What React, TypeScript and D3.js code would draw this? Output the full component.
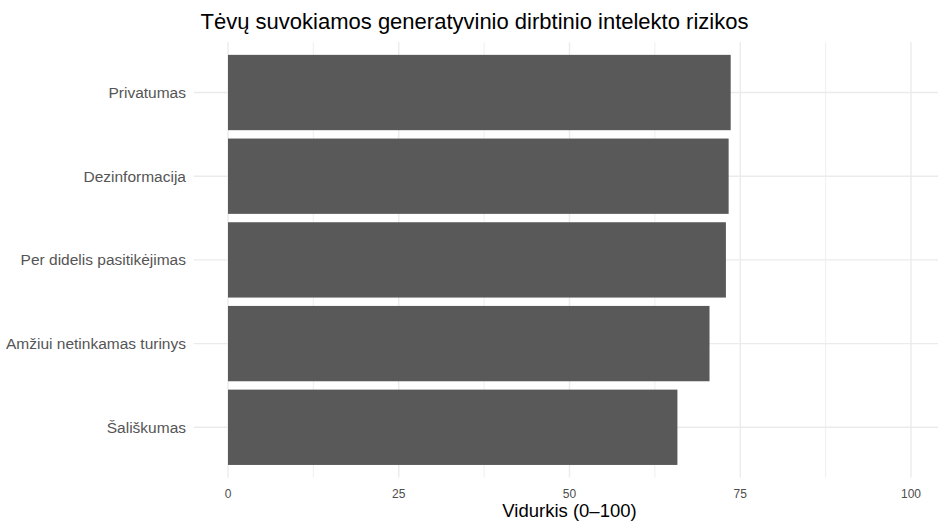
import React from "react";
import * as d3 from "d3";

const categories = [
  "Privatumas",
  "Dezinformacija",
  "Per didelis pasitikėjimas",
  "Amžiui netinkamas turinys",
  "Šališkumas",
];
const values = [73.6, 73.3, 72.9, 70.5, 65.8];
const xTicks = [0, 25, 50, 75, 100];
const minorTicks = [12.5, 37.5, 62.5, 87.5, 112.5];

const W = 938;
const H = 525;
const FONT = "'Liberation Sans', Arial, sans-serif";

export default function App() {
  const x = d3.scaleLinear().domain([0, 100]).range([228, 911]);
  const panelLeft = x(-5);
  const panelRight = x(105);
  const panelTop = 42.3;
  const panelBottom = 477.5;
  const y = d3
    .scaleBand()
    .domain(categories)
    .range([panelTop, panelBottom])
    .paddingInner(0.1)
    .paddingOuter(0.15);
  const center = (c: string) => (y(c) as number) + y.bandwidth() / 2;

  return (
    <div style={{ position: "fixed", left: 0, top: 0 }}>
      <svg width={W} height={H} style={{ display: "block", background: "#fff" }}>
        {minorTicks.map((t) => (
          <line key={"m" + t} x1={x(t)} x2={x(t)} y1={panelTop} y2={panelBottom} stroke="#ebebeb" strokeWidth={0.8} />
        ))}
        {xTicks.map((t) => (
          <line key={"M" + t} x1={x(t)} x2={x(t)} y1={panelTop} y2={panelBottom} stroke="#ebebeb" strokeWidth={1.4} />
        ))}
        {categories.map((c) => (
          <line key={"h" + c} x1={panelLeft} x2={panelRight} y1={center(c)} y2={center(c)} stroke="#ebebeb" strokeWidth={1.4} />
        ))}
        {categories.map((c, i) => (
          <rect
            key={"b" + c}
            x={x(0)}
            y={y(c) as number}
            width={x(values[i]) - x(0)}
            height={y.bandwidth()}
            fill="#595959"
          />
        ))}
        {categories.map((c) => (
          <text
            key={"l" + c}
            x={186}
            y={center(c)}
            dy="0.35em"
            textAnchor="end"
            fontFamily={FONT}
            fontSize={15.5}
            fill="#555555"
          >
            {c}
          </text>
        ))}
        {xTicks.map((t) => (
          <text
            key={"t" + t}
            x={x(t)}
            y={494}
            dy="0.35em"
            textAnchor="middle"
            fontFamily={FONT}
            fontSize={12}
            fill="#4d4d4d"
          >
            {t}
          </text>
        ))}
        <text x={x(50)} y={517} textAnchor="middle" fontFamily={FONT} fontSize={18.5} fill="#000">
          Vidurkis (0–100)
        </text>
        <text x={474.5} y={29} textAnchor="middle" fontFamily={FONT} fontSize={22} fill="#000">
          Tėvų suvokiamos generatyvinio dirbtinio intelekto rizikos
        </text>
      </svg>
    </div>
  );
}
